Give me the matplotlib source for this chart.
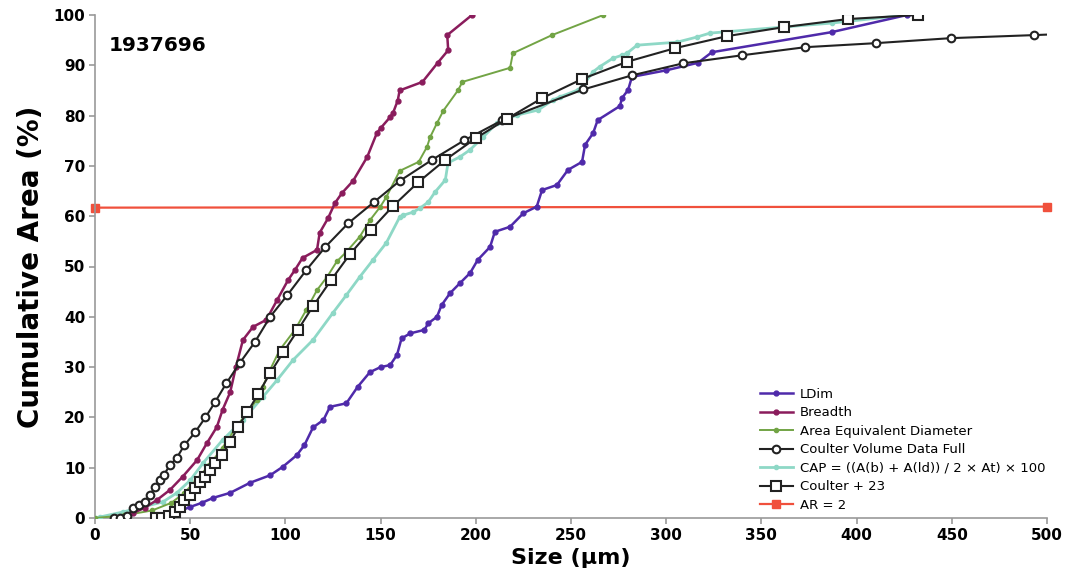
import matplotlib
matplotlib.use('Agg')
import matplotlib.pyplot as plt

# Cumulative area curves (size in um, area in %)
ldim_x = [35, 42, 50, 56, 62, 71, 81.4, 92, 98.7, 106, 110, 114.5, 120, 123.4, 132, 138, 144.4, 150, 155,
          158.6, 161, 165.5, 173, 175, 179.6, 182, 186.5, 191.7, 197, 201, 207.5, 210, 218, 225, 232,
          234.8, 242.6, 248.4, 255.8, 257.4, 261.6, 264, 275.7, 276.8, 280, 282, 300, 316.7, 324, 387, 426.5]
ldim_y = [0, 1, 2.2, 3, 4, 5, 7, 8.5, 10.2, 12.5, 14.5, 18, 19.5, 22.1, 22.8, 26.1, 29, 30, 30.4,
          32.4, 35.7, 36.7, 37.4, 38.7, 40, 42.3, 44.7, 46.7, 48.7, 51.3, 53.9, 56.9, 57.9, 60.6, 61.9,
          65.2, 66.2, 69.2, 70.8, 74.2, 76.5, 79.1, 81.9, 83.5, 85.1, 87.7, 89, 90.5, 92.6, 96.6, 100]

breadth_x = [12, 20, 26, 32.6, 39.4, 46, 53.6, 58.8, 64, 67, 71, 74, 77.7, 83, 90, 95.6, 101.4, 105, 109,
             116.6, 118, 122.4, 126, 129.7, 135.5, 143, 148, 150, 155, 156.5, 159, 160, 172, 180, 185.5,
             185, 198]
breadth_y = [0, 1, 2, 3.6, 5.6, 8.2, 11.5, 14.9, 18.1, 21.5, 25, 30, 35.4, 38, 39.4, 43.3, 47.3, 49.3, 51.7,
             53.3, 56.7, 59.6, 62.6, 64.6, 67, 71.8, 76.5, 77.5, 79.7, 80.5, 83, 85, 86.7, 90.5, 93,
             96, 100]

aed_x = [0, 15, 30, 40, 47, 53, 60, 67, 75, 85, 88, 92, 97, 105, 111, 116.6, 122, 127, 132, 139, 144.4,
         149.7, 153, 160, 170, 174.4, 176, 179.6, 183, 190.6, 193, 218, 219.5, 240, 267]
aed_y = [0, 0.5, 1.5, 3, 5, 7.5, 10.5, 14, 18.5, 23.5, 26, 29.5, 33.4, 37.4, 41.4, 45.3, 48, 51, 52.9, 55.9,
         59.2, 61.8, 63.8, 69, 70.8, 73.8, 75.7, 78.5, 81, 85, 86.7, 89.5, 92.4, 96, 100]

cvd_x = [10, 13, 17, 20, 23, 26, 29, 31.5, 34, 36, 39.4, 43, 47, 52.5, 58, 63, 69, 76, 84, 92, 101, 111,
         121, 133, 146.5, 160, 177, 194, 214, 256.5, 282, 309, 340, 373, 410, 449.6, 493, 520]
cvd_y = [0, 0, 0.3, 2, 2.6, 3.2, 4.6, 6.2, 7.5, 8.5, 10.5, 12, 14.5, 17, 20, 23, 26.8, 30.8, 35, 40, 44.3,
         49.3, 53.9, 58.6, 62.8, 67, 71.2, 75.1, 79.1, 85.2, 88, 90.4, 92, 93.6, 94.4, 95.4, 96, 96.4]

cap_x = [0, 2.6, 14.7, 25, 35.7, 43, 50, 56.7, 67, 77.7, 88, 95.6, 104, 114.5, 125, 132, 139, 146, 153,
         160, 162, 167, 170.7, 175, 178.6, 184, 185.4, 191.7, 197, 203.8, 211, 221.6, 232.7, 240.5, 244,
         253.7, 256.3, 261.6, 265, 272, 276.8, 279.4, 284.7, 305.7, 316, 323, 387, 426.5]
cap_y = [0, 0.2, 1.2, 2.2, 3.2, 5, 7.5, 10.9, 15.5, 19.5, 24, 27.4, 31.4, 35.4, 40.8, 44.3, 47.9, 51.3, 54.7,
         59.8, 60.2, 60.8, 61.6, 62.8, 64.8, 67.2, 70.6, 71.8, 73.2, 75.7, 78.5, 80.1, 81.1, 83.1, 83.7,
         85.1, 86, 88.7, 89.7, 91.4, 92, 92.4, 94, 94.6, 95.6, 96.4, 98.4, 100]

c23_x = [32, 35, 39, 42, 44.6, 47, 50, 52.5, 55, 58, 60.4, 63, 66.7, 71, 75, 80, 85.6, 92, 99, 106.6, 114.5,
         124, 134, 145, 156.5, 169.6, 184, 200, 216.5, 235, 256, 279.4, 304.6, 332, 362, 395.5, 432]
c23_y = [0, 0, 0.3, 1.2, 2.2, 3.6, 4.6, 6, 7.2, 8.2, 9.5, 10.9, 12.5, 15.1, 18.1, 21, 24.6, 28.8, 33, 37.4,
         42.1, 47.3, 52.5, 57.3, 62, 66.7, 71.2, 75.5, 79.4, 83.5, 87.3, 90.7, 93.4, 95.8, 97.6, 99.2, 100]

ar_x = [0, 500]
ar_y = [61.7, 61.9]

fig = plt.figure(figsize=(10.68, 5.88), dpi=100)
ax = fig.add_axes([95 / 1068, 1 - 518 / 588, 952 / 1068, 503 / 588])

ax.plot(ar_x, ar_y, color='#f0503c', lw=1.6, marker='s', ms=6, label='AR = 2', clip_on=False, zorder=2)
ax.plot(cap_x, cap_y, color='#8ed8c6', lw=2.0, marker='o', ms=3, label='CAP = ((A(b) + A(ld)) / 2 \u00d7 At) \u00d7 100', zorder=3)
ax.plot(aed_x, aed_y, color='#72a445', lw=1.4, marker='o', ms=3, label='Area Equivalent Diameter', zorder=4)
ax.plot(breadth_x, breadth_y, color='#8a1c5c', lw=1.8, marker='o', ms=3.5, label='Breadth', zorder=4)
ax.plot(ldim_x, ldim_y, color='#4f2aaa', lw=1.8, marker='o', ms=3.5, label='LDim', zorder=4)
ax.plot(cvd_x, cvd_y, color='#222222', lw=1.5, marker='o', ms=5.5, mfc='white', mec='#222222', mew=1.5,
        label='Coulter Volume Data Full', zorder=5)
ax.plot(c23_x, c23_y, color='#222222', lw=1.5, marker='s', ms=7.5, mfc='white', mec='#222222', mew=1.5,
        label='Coulter + 23', zorder=5)

ax.set_xlim(0, 500)
ax.set_ylim(0, 100)
ax.set_xticks(range(0, 501, 50))
ax.set_yticks(range(0, 101, 10))
for s in ['top', 'right']:
    ax.spines[s].set_visible(False)
for s in ['left', 'bottom']:
    ax.spines[s].set_color('#999999')
    ax.spines[s].set_linewidth(1.2)
ax.tick_params(direction='out', length=4, color='#999999', width=1.2, pad=3)
for lab in ax.get_xticklabels() + ax.get_yticklabels():
    lab.set_fontsize(11)
    lab.set_fontweight('bold')

ax.set_xlabel('Size (\u00b5m)', fontsize=16, fontweight='bold', labelpad=4)
ax.set_ylabel('Cumulative Area (%)', fontsize=20, fontweight='bold', labelpad=6)

ax.text(0.014, 0.94, '1937696', transform=ax.transAxes, fontsize=14.5, fontweight='bold', va='center')

handles, labels = ax.get_legend_handles_labels()
order = ['LDim', 'Breadth', 'Area Equivalent Diameter', 'Coulter Volume Data Full',
         'CAP = ((A(b) + A(ld)) / 2 \u00d7 At) \u00d7 100', 'Coulter + 23', 'AR = 2']
hl = dict(zip(labels, handles))
leg = fig.legend([hl[k] for k in order], order, loc='lower left',
                 bbox_to_anchor=(760 / 1068, 76 / 588), frameon=False, fontsize=9.5,
                 borderpad=0, borderaxespad=0, labelspacing=0.42, handlelength=2.5, handletextpad=0.5)

fig.savefig('out.png', dpi=100)
